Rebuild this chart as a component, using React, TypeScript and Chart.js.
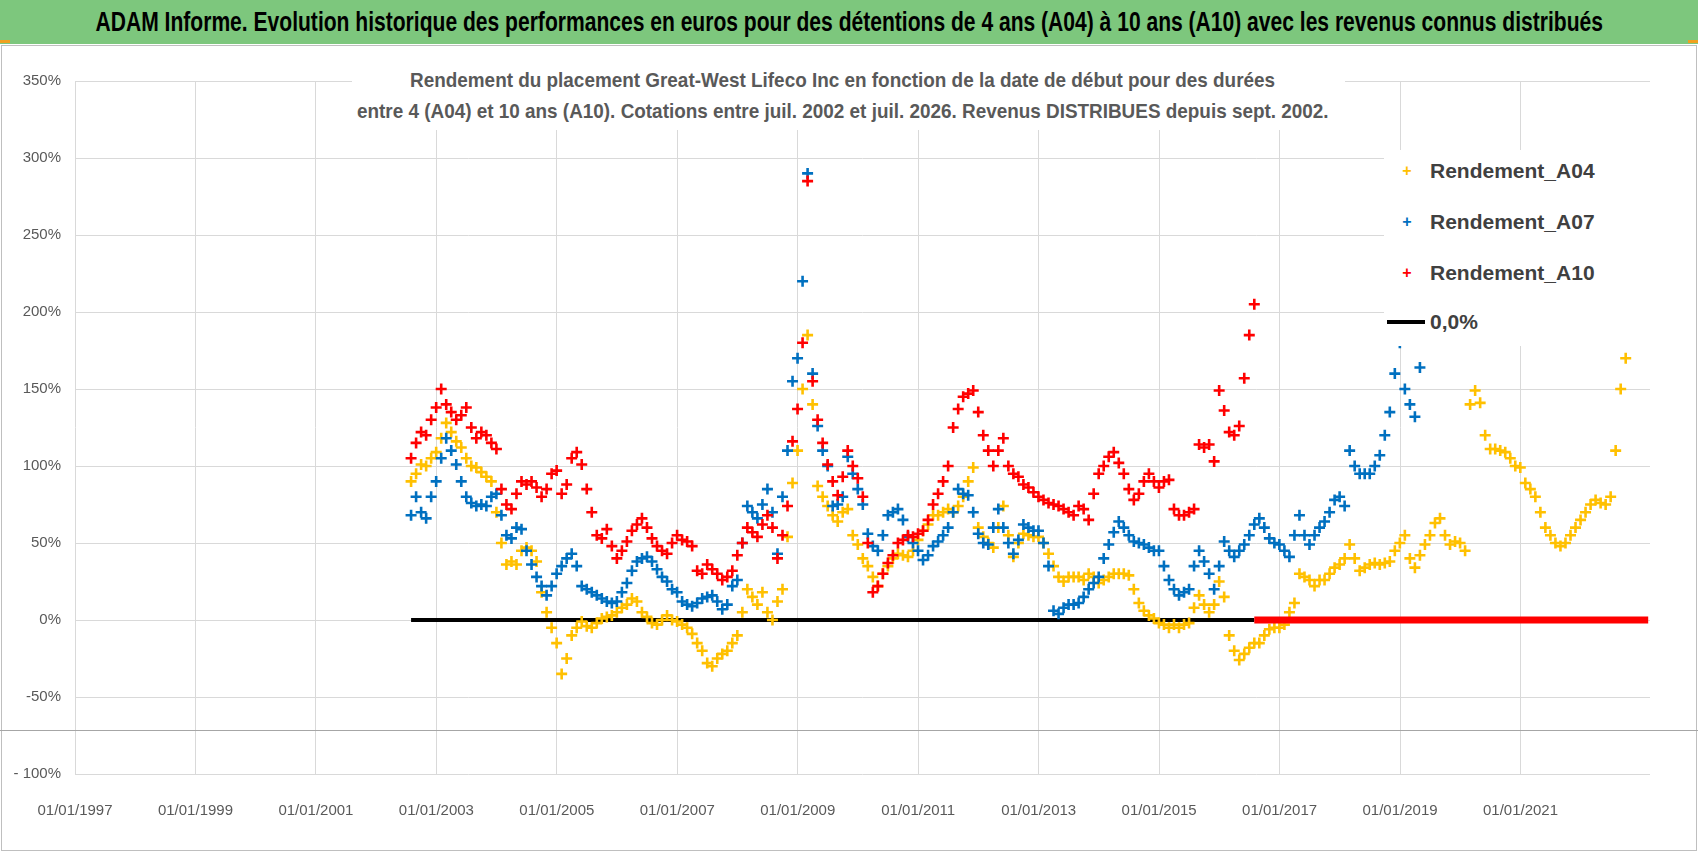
import React, { useEffect, useRef } from "react";
import { Chart, registerables } from "chart.js";
Chart.register(...registerables);

const START = 2002.58;
const A10 = [
  105, 115, 122, 120, 130,
  138, 150, 140, 135, 130, 133, 138, 125, 118, 122, 120, 115,
  111, 85, 75, 72, 82, 90, 88, 90, 86, 80, 85, 95,
  97, 82, 88, 105, 109, 101, 85, 70, 55, 53, 59, 48,
  40, 45, 51, 58, 62, 66, 60, 53, 48, 45, 43, 50,
  55, 52, 51, 48, 32, 30, 36, 33, 30, 26, 28, 32,
  42, 50, 60, 57, 54, 62, 68, 60, 40, 55, 74, 116,
  137, 180, 285, 155, 130, 115, 101, 90, 81, 93, 110, 100,
  92, 80, 50, 18, 22, 30, 37, 42, 50, 52, 55, 54,
  56, 58, 65, 75, 82, 90, 100, 125, 137, 145, 147, 149,
  135, 120, 110, 100, 110, 118, 100, 95, 93, 88, 86, 83,
  80, 78, 76, 75, 74, 72, 70, 68, 74, 72, 65, 82,
  95, 100, 106, 109, 102, 95, 85, 78, 82, 90, 95, 90,
  86, 90, 91, 72, 68, 68, 70, 72, 114, 112, 114, 103,
  149, 136, 122, 120, 126, 157, 185, 205,
];
const A07 = [
  68, 80, 70, 66, 80,
  90, 105, 118, 110, 101, 90, 80, 76, 74, 75, 74, 80,
  82, 68, 55, 53, 60, 59, 45, 36, 28, 22, 16, 22,
  30, 35, 40, 43, 35, 22, 20, 18, 16, 14, 12, 11,
  12, 18, 24, 32, 38, 40, 41, 38, 33, 28, 25, 20,
  18, 12, 10, 9, 11, 14, 15, 16, 12, 7, 10, 22,
  26, 50, 74, 70, 66, 75, 85, 70, 43, 80, 110, 155,
  170, 220, 290, 160, 126, 110, 100, 74, 75, 80, 106, 95,
  85, 75, 56, 48, 45, 55, 68, 70, 72, 65, 54, 50,
  45, 39, 42, 48, 51, 55, 60, 70, 85, 82, 81, 70,
  56, 50, 49, 60, 72, 60, 50, 43, 52, 62, 60, 58,
  58, 50, 35, 6, 4, 8, 10, 10, 11, 15, 20, 24,
  28, 40, 49, 57, 64, 60, 55, 51, 50, 49, 47, 45,
  45, 35, 26, 20, 16, 18, 20, 35, 45, 38, 30, 20,
  35, 51, 45, 41, 45, 49, 55, 62, 66, 60, 53, 50,
  49, 45, 41, 55, 68, 55, 49, 55, 60, 64, 70, 78,
  80, 74, 110, 100, 95, 95, 95, 100, 107, 120, 135, 160,
  180, 150, 140, 132, 164, 185,
];
const A04 = [
  90, 95, 101, 100, 105,
  109, 118, 128, 122, 116, 112, 105, 100, 99, 96, 93, 90,
  70, 50, 36, 38, 36, 45, 47, 45, 38, 18, 5, -5,
  -15, -35, -25, -10, -5, -1, -4, -5, -2, 1, 2, 3,
  5, 8, 10, 14, 12, 5, 2, -2, -3, 0, 3, 0,
  -1, -3, -5, -9, -15, -20, -28, -30, -25, -22, -20, -15,
  -10, 5, 20, 15, 10, 18, 5, 0, 12, 20, 54, 89,
  110, 150, 185, 140, 87, 80, 74, 68, 64, 70, 72, 55,
  49, 40, 35, 28, 22, 30, 35, 40, 43, 42, 41, 45,
  52, 58, 62, 68, 68, 70, 72, 70, 74, 80, 90, 99,
  60, 54, 50, 47, 60, 74, 55, 41, 50, 56, 55, 54,
  54, 50, 43, 35, 28, 25, 28, 28, 28, 26, 30, 28,
  24, 26, 28, 30, 30, 30, 29, 20, 11, 6, 3, 1,
  -2, -3, -5, -3, -5, -3, -2, 8, 16, 10, 5, 10,
  25, 15, -10, -20, -26, -22, -18, -15, -15, -10, -6, -5,
  -5, -3, 5, 11, 30, 28, 26, 22, 26, 26, 30, 34,
  36, 40, 49, 40, 32, 34, 36, 37, 36, 37, 38, 45,
  50, 55, 40, 34, 42, 49, 55, 63, 66, 55, 49, 51,
  50, 45, 140, 149, 141, 120, 111, 111, 110, 109, 105, 100,
  99, 89, 85, 80, 70, 60, 55, 50, 48, 50, 55, 60,
  65, 70, 75, 78, 76, 75, 80, 110, 150, 170,
];
const ZERO_LINE = [{ x: 2002.58, y: 0 }, { x: 2016.58, y: 0 }];
const A10_ZERO = [{ x: 2016.58, y: 0 }, { x: 2023.12, y: 0 }];
const X_MIN = 1997, X_MAX = 2023.15;
const Y_MIN = -100, Y_MAX = 350;

const pts = (vals: number[]) => vals.map((v, i) => ({ x: START + i / 12, y: v }));

const FONT = "'Liberation Sans', Arial, sans-serif";

export default function App() {
  const ref = useRef<HTMLCanvasElement>(null);
  useEffect(() => {
    const mk = (label: string, data: any, color: string, order: number) => ({
      type: "scatter" as const, label, data, order,
      pointStyle: "cross", pointRadius: 5.5, borderColor: color, backgroundColor: color, pointBorderWidth: 2.6,
    });
    const chart = new Chart(ref.current!, {
      type: "scatter",
      data: {
        datasets: [
          mk("Rendement_A10", pts(A10), "#FF0000", 1),
          mk("Rendement_A07", pts(A07), "#0070C0", 2),
          mk("Rendement_A04", pts(A04), "#FFC000", 3),
          { type: "line", label: "0,0%", data: ZERO_LINE, borderColor: "#000", borderWidth: 4, pointRadius: 0, order: 5 } as any,
          { type: "line", label: "A10zero", data: A10_ZERO, borderColor: "#FF0000", borderWidth: 7, pointRadius: 0, order: 0 } as any,
        ],
      },
      options: {
        animation: false, responsive: false, maintainAspectRatio: false,
        layout: { padding: { left: 5, right: 48, top: 36, bottom: 8 } },
        plugins: { legend: { display: false }, tooltip: { enabled: false } },
        scales: {
          x: {
            type: "linear", min: X_MIN, max: X_MAX,
            afterBuildTicks: (s: any) => { const t = []; for (let v = 1997; v <= 2022; v += 2) t.push({ value: v }); s.ticks = t; },
            ticks: { padding: 28, color: "#595959", font: { family: FONT, size: 15 }, callback: (v: any) => "01/01/" + v },
            grid: { color: "#D9D9D9", drawTicks: false }, border: { display: false },
          },
          y: {
            min: Y_MIN, max: Y_MAX,
            afterFit: (s: any) => { s.width = 70; },
            ticks: { stepSize: 50, padding: 14, color: "#595959", font: { family: FONT, size: 15 },
              callback: (v: any) => (v === -100 ? "- 100%" : v + "%") },
            grid: { color: "#D9D9D9", drawTicks: false }, border: { display: false },
          },
        },
      },
    });
    return () => chart.destroy();
  }, []);

  const legend = [
    { t: "Rendement_A04", c: "#FFC000", top: 171 },
    { t: "Rendement_A07", c: "#0070C0", top: 222 },
    { t: "Rendement_A10", c: "#FF0000", top: 273 },
  ];
  const squeeze = (s: number): React.CSSProperties => ({ display: "inline-block", transform: `scaleX(${s})`, transformOrigin: "center", whiteSpace: "nowrap" });
  return (
    <div style={{ position: "fixed", left: 0, top: 0, width: 1698, height: 856, background: "#fff", overflow: "hidden", fontFamily: FONT }}>
      <div style={{ position: "absolute", left: 0, top: 0, width: 1698, height: 44, background: "#7DC77D",
        display: "flex", alignItems: "center", justifyContent: "center", fontWeight: "bold", fontSize: 27, color: "#000", whiteSpace: "nowrap" }}>
        <span style={squeeze(0.78)}>ADAM Informe. Evolution historique des performances en euros pour des détentions de 4 ans (A04) à 10 ans (A10) avec les revenus connus distribués</span>
      </div>
      <div style={{ position: "absolute", left: 0, top: 40, width: 10, height: 3, background: "#F0A020" }} />
      <div style={{ position: "absolute", right: 0, top: 40, width: 10, height: 3, background: "#F0A020" }} />
      <div style={{ position: "absolute", left: 1, top: 45, width: 1694, height: 804, border: "1px solid #BFBFBF" }} />
      <canvas ref={ref} width={1698} height={811} style={{ position: "absolute", left: 0, top: 45, width: 1698, height: 811 }} />
      <div style={{ position: "absolute", left: 0, top: 730, width: 1698, height: 1, background: "#A6A6A6" }} />
      <div style={{ position: "absolute", left: 352, top: 64, width: 993, height: 66, background: "#fff" }} />
      <div style={{ position: "absolute", left: -6, top: 64, width: 1698, textAlign: "center",
        color: "#595959", fontWeight: "bold", fontSize: 21, lineHeight: "31px", whiteSpace: "nowrap" }}>
        <div><span style={squeeze(0.9)}>Rendement du placement Great-West Lifeco Inc en fonction de la date de début pour des durées</span></div>
        <div><span style={squeeze(0.9)}>entre 4 (A04) et 10 ans (A10). Cotations entre juil. 2002 et juil. 2026. Revenus DISTRIBUES depuis sept. 2002.</span></div>
      </div>
      <div style={{ position: "absolute", left: 1384, top: 150, width: 275, height: 196, background: "#fff" }}>
        {legend.map((l) => (
          <div key={l.t} style={{ position: "absolute", left: 0, top: l.top - 150 - 14, height: 28, display: "flex", alignItems: "center" }}>
            <span style={{ width: 46, textAlign: "center", color: l.c, fontSize: 16, fontWeight: "bold" }}>+</span>
            <span style={{ color: "#404040", fontSize: 21, fontWeight: "bold" }}>{l.t}</span>
          </div>
        ))}
        <div style={{ position: "absolute", left: 0, top: 322 - 150 - 14, height: 28, display: "flex", alignItems: "center" }}>
          <span style={{ width: 44, display: "flex", justifyContent: "center" }}><span style={{ width: 38, height: 4, background: "#000", display: "block" }} /></span>
          <span style={{ color: "#404040", fontSize: 21, fontWeight: "bold", marginLeft: 2 }}>0,0%</span>
        </div>
      </div>
    </div>
  );
}
